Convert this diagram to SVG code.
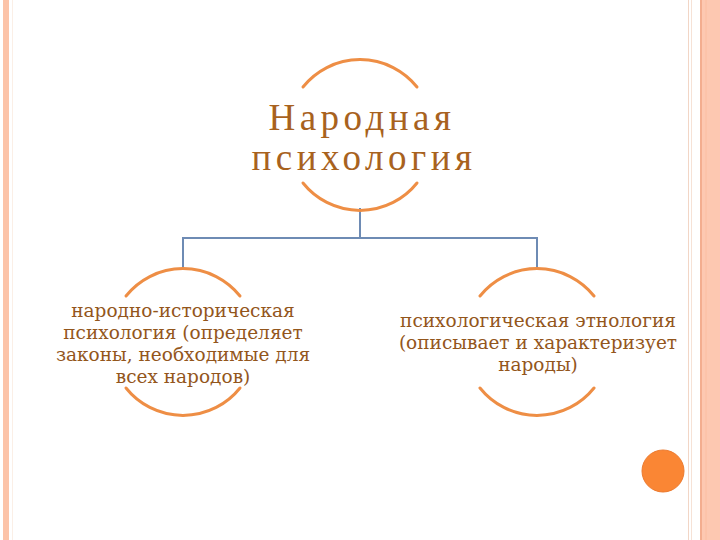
<svg xmlns="http://www.w3.org/2000/svg" width="720" height="540" viewBox="0 0 720 540">
<defs>
<style>
.arc{fill:none;stroke:#EE8E45;stroke-width:3;stroke-linecap:round}
.conn{fill:none;stroke:#6E8BB4;stroke-width:2}
.big{font-family:"Liberation Serif","DejaVu Serif",serif;font-size:37px;fill:#A8621E;text-anchor:middle;letter-spacing:4.5px}
.small{font-family:"DejaVu Serif","Liberation Serif",serif;font-size:18.5px;fill:#93561C;text-anchor:middle}
</style>
</defs>
<rect width="720" height="540" fill="#FFFFFF"/>
<g id="border">
<rect x="3" y="0" width="6" height="540" fill="#FCC3A8"/>
<line x1="12.5" y1="0" x2="12.5" y2="540" stroke="#FBEFE6" stroke-width="1"/>
<line x1="688.5" y1="0" x2="688.5" y2="540" stroke="#F2D6C6" stroke-width="1"/>
<line x1="691.5" y1="0" x2="691.5" y2="540" stroke="#F6E2D6" stroke-width="1"/>
<rect x="700" y="0" width="20" height="540" fill="#FDC8B1"/>
<line x1="701" y1="0" x2="701" y2="540" stroke="#EFA584" stroke-width="1.5"/>
<line x1="706" y1="0" x2="706" y2="540" stroke="#FBBEA2" stroke-width="1"/>
</g>
<g id="connectors">
<path class="conn" d="M360 208 V238 M183 270 V238 H537 V270"/>
</g>
<g id="node-top">
<path class="arc" d="M303 87 A73 73 0 0 1 417 87"/>
<path class="arc" d="M303 183 A73 73 0 0 0 417 183"/>
<text class="big" x="362" y="130">Народная</text>
<text class="big" x="364" y="170">психология</text>
</g>
<g id="node-left">
<path class="arc" d="M126 296 A73 73 0 0 1 240 296"/>
<path class="arc" d="M126 388 A73 73 0 0 0 240 388"/>
<text class="small" x="183" y="317">народно-историческая</text>
<text class="small" x="183" y="339">психология (определяет</text>
<text class="small" x="183" y="361">законы, необходимые для</text>
<text class="small" x="183" y="383">всех народов)</text>
</g>
<g id="node-right">
<path class="arc" d="M480 296 A73 73 0 0 1 594 296"/>
<path class="arc" d="M480 388 A73 73 0 0 0 594 388"/>
<text class="small" x="538" y="327">психологическая этнология</text>
<text class="small" x="538" y="349">(описывает и характеризует</text>
<text class="small" x="538" y="371">народы)</text>
</g>
<g id="dot">
<circle cx="663" cy="471" r="21" fill="#FA8634" stroke="#EC7A2E" stroke-width="1"/>
</g>
</svg>
